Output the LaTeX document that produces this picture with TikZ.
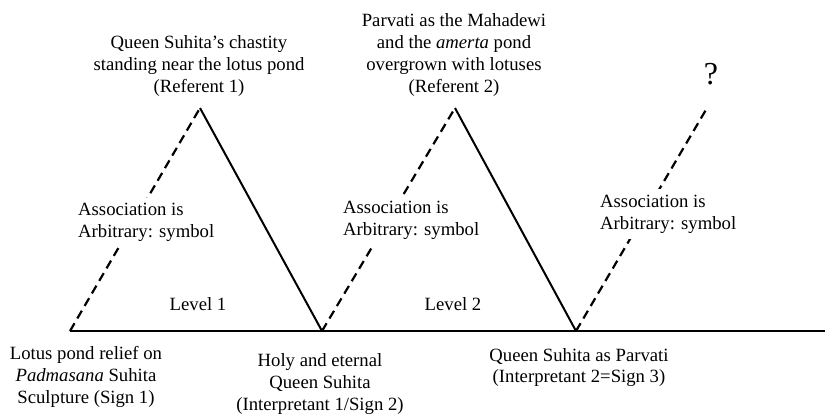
\documentclass[tikz,border=0pt]{standalone}
\usepackage{fontspec}
\setmainfont{Liberation Serif}
\begin{document}
\begin{tikzpicture}[x=1pt,y=-1pt,
  txt/.style={font=\fontsize{18.7}{21.8}\selectfont, align=center, inner sep=0pt},
  solidline/.style={line width=2pt},
  dashline/.style={line width=2.2pt, dash pattern=on 9pt off 5.5pt},
  assoc/.style={txt, align=left, fill=white, inner xsep=8pt, inner ysep=5.5pt, anchor=west}]
\useasboundingbox (0,0) rectangle (825,413);
\coordinate (A) at (70,331);
\coordinate (B) at (322,331);
\coordinate (C) at (576,331);
\coordinate (E) at (825,331);
\coordinate (R1) at (200,108);
\coordinate (R2) at (455,108);
\coordinate (R3) at (707,108);
\draw[solidline] (A) -- (E);
\draw[dashline] (A) -- (R1);
\draw[dashline] (B) -- (R2);
\draw[dashline] (C) -- (R3);
\draw[solidline] (R1) -- (B);
\draw[solidline] (R2) -- (C);
\node[assoc] (as1) at (70,222.5) {Association is\\Arbitrary: symbol};
\node[assoc] (as2) at (335,220) {Association is\\Arbitrary: symbol};
\node[assoc] (as3) at (592,214) {Association is\\Arbitrary: symbol};
\node[txt] (lv1) at (198,304) {Level 1};
\node[txt] (lv2) at (453,304) {Level 2};
\node[txt] (ref1) at (199,66) {Queen Suhita{\char"0027}s chastity\\standing near the lotus pond\\(Referent 1)};
\node[txt] (ref2) at (454,55) {Parvati as the Mahadewi\\and the \textit{amerta} pond\\overgrown with lotuses\\(Referent 2)};
\node[txt, font=\fontsize{32}{36}\selectfont] (q) at (711,74) {?};
\node[txt] (s1) at (86,377) {Lotus pond relief on\\\textit{Padmasana} Suhita\\Sculpture (Sign 1)};
\node[txt] (s2) at (320,384) {Holy and eternal\\Queen Suhita\\(Interpretant 1/Sign 2)};
\node[txt] (s3) at (579,367.5) {Queen Suhita as Parvati\\(Interpretant 2=Sign 3)};
\end{tikzpicture}
\end{document}
